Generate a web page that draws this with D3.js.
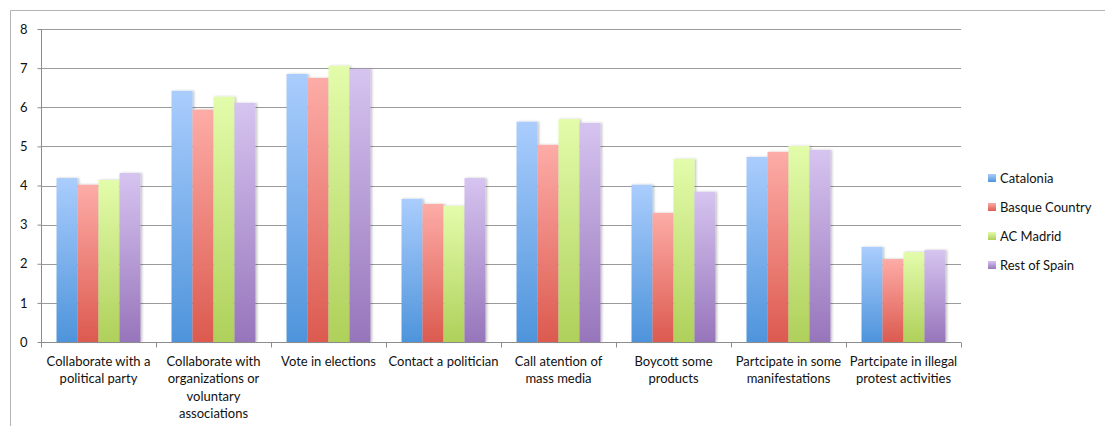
<!DOCTYPE html>
<html><head><meta charset="utf-8">
<script src="https://cdn.jsdelivr.net/npm/d3@7"></script>
<style>body{margin:0;background:#fff;} text{font-family:Lato, "Open Sans", sans-serif;}</style>
</head><body>
<svg id="c" width="1105" height="426"></svg>
<script>
const categories = [
  ["Collaborate with a","political party"],
  ["Collaborate with","organizations or","voluntary","associations"],
  ["Vote in elections"],
  ["Contact a politician"],
  ["Call atention of","mass media"],
  ["Boycott some","products"],
  ["Partcipate in some","manifestations"],
  ["Partcipate in illegal","protest activities"]
];
const seriesNames = ["Catalonia","Basque Country","AC Madrid","Rest of Spain"];
const catalonia = [4.19, 6.42, 6.85, 3.66, 5.63, 4.02, 4.73, 2.43];
const basque    = [4.02, 5.94, 6.75, 3.53, 5.04, 3.30, 4.86, 2.12];
const madrid    = [4.14, 6.27, 7.06, 3.48, 5.70, 4.68, 5.01, 2.30];
const restSpain = [4.32, 6.11, 6.98, 4.19, 5.60, 3.84, 4.91, 2.35];
const yTicks = [0,1,2,3,4,5,6,7,8];
const colorsTop = ["#aacdfd","#fdaca7","#e3fcab","#d6c4f0"];
const colorsBot = ["#4e94db","#dc5a4f","#afd05a","#9775bb"];

const series = [catalonia, basque, madrid, restSpain];
const svg = d3.select("#c");
const m = {l:41, r:961, t:29, b:342};

const defs = svg.append("defs");
colorsTop.forEach((c,i)=>{
  const g = defs.append("linearGradient").attr("id","g"+i).attr("x1",0).attr("y1",0).attr("x2",0).attr("y2",1);
  g.append("stop").attr("offset","0%").attr("stop-color",c);
  g.append("stop").attr("offset","100%").attr("stop-color",colorsBot[i]);
  const gl = defs.append("linearGradient").attr("id","gl"+i).attr("gradientUnits","objectBoundingBox").attr("x1",0).attr("y1",0).attr("x2",0).attr("y2",1);
  gl.append("stop").attr("offset","0%").attr("stop-color",c);
  gl.append("stop").attr("offset","100%").attr("stop-color",colorsBot[i]);
});
const f = defs.append("filter").attr("id","sh").attr("x","-20%").attr("y","-5%").attr("width","150%").attr("height","110%");
f.append("feDropShadow").attr("dx",1.5).attr("dy",0).attr("stdDeviation",1).attr("flood-color","#000").attr("flood-opacity",0.25);

// outer border
svg.append("path").attr("d","M10.5,426 V10.5 H1105").attr("fill","none").attr("stroke","#b3b3b3").attr("stroke-width",1);

const x = d3.scaleBand().domain(d3.range(categories.length)).range([m.l,m.r]).paddingInner(0).paddingOuter(0);
const y = d3.scaleLinear().domain([0,8]).range([m.b,m.t]);
const xs = d3.scaleBand().domain(d3.range(series.length)).range([0,x.bandwidth()]).paddingOuter(0.74).paddingInner(0);

// gridlines
svg.append("g").selectAll("line").data(yTicks.filter(d=>d>0)).join("line")
  .attr("x1",m.l).attr("x2",m.r).attr("y1",d=>Math.round(y(d))+0.5).attr("y2",d=>Math.round(y(d))+0.5)
  .attr("stroke","#9a9a9a").attr("stroke-width",1.2);

// bars
series.forEach((s,si)=>{
  svg.append("g").selectAll("rect").data(s).join("rect")
    .attr("x",(d,i)=>x(i)+xs(si)).attr("width",xs.bandwidth())
    .attr("y",d=>y(d)).attr("height",d=>y(0)-y(d))
    .attr("fill","url(#g"+si+")").attr("filter","url(#sh)");
});

// y axis
const ya = svg.append("g").attr("transform",`translate(${m.l+0.5},0)`)
  .call(d3.axisLeft(y).tickValues(yTicks).tickSize(4).tickPadding(10).tickFormat(d3.format("d")));
ya.select(".domain").attr("stroke","#8c8c8c").attr("d",`M0,${m.t}V${m.b}`);
ya.selectAll(".tick line").attr("stroke","#8c8c8c");
ya.selectAll("text").attr("font-size",13).attr("fill","#111").style("font-family","Lato, sans-serif");

// x axis
const xg = svg.append("g").attr("transform",`translate(0,${m.b+0.5})`);
xg.append("line").attr("x1",m.l).attr("x2",m.r).attr("stroke","#8c8c8c");
xg.selectAll("line.t").data(d3.range(categories.length+1)).join("line").attr("class","t")
  .attr("x1",i=>m.l+i*x.bandwidth()+0.5).attr("x2",i=>m.l+i*x.bandwidth()+0.5).attr("y1",0).attr("y2",5).attr("stroke","#8c8c8c");
categories.forEach((lines,i)=>{
  const t = svg.append("text").attr("x",x(i)+x.bandwidth()/2).attr("y",m.b+24)
    .attr("text-anchor","middle").attr("font-size",13).attr("fill","#111");
  lines.forEach((ln,j)=>t.append("tspan").attr("x",x(i)+x.bandwidth()/2).attr("dy",j?17.3:0).text(ln));
});

// legend
const lg = svg.append("g").attr("transform","translate(988,178)");
seriesNames.forEach((n,i)=>{
  const g = lg.append("g").attr("transform",`translate(0,${i*29})`);
  g.append("rect").attr("x",0).attr("y",-4).attr("width",8).attr("height",8).attr("fill","url(#gl"+i+")");
  g.append("text").attr("x",12).attr("y",4.5).attr("font-size",13).attr("fill","#111").text(n);
});
</script>
</body></html>
